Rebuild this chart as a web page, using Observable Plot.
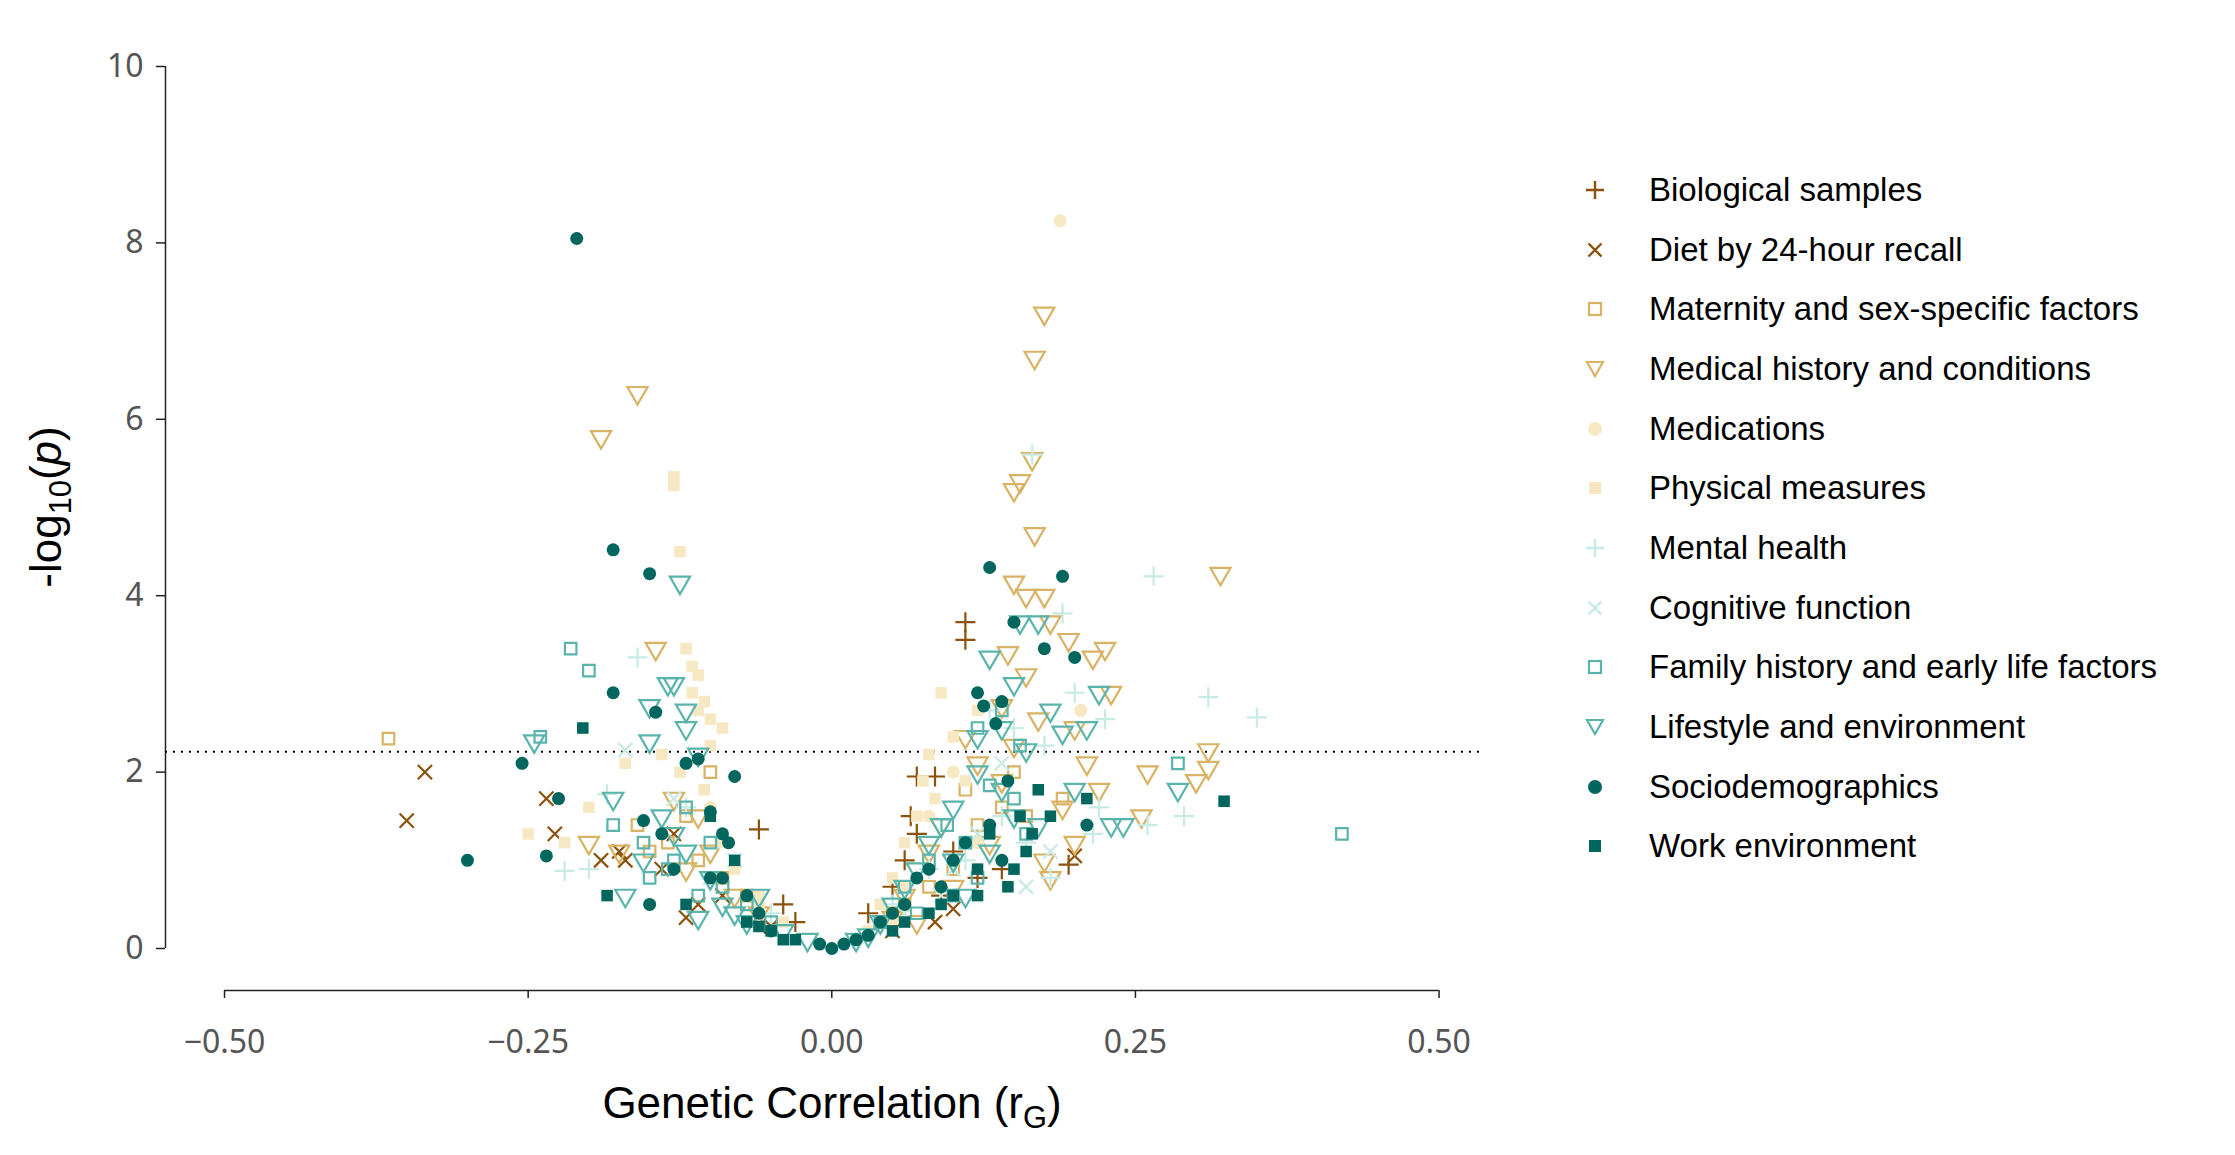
<!DOCTYPE html>
<html><head><meta charset="utf-8">
<script src="https://cdn.jsdelivr.net/npm/d3@7"></script>
<script src="https://cdn.jsdelivr.net/npm/@observablehq/plot@0.6"></script>
<style>
body{margin:0;background:#fff;font-family:Arial,"Liberation Sans",sans-serif;}
#wrap{position:relative;width:2235px;height:1155px;}
#chart{position:absolute;left:0;top:0;}
.ytitle{position:absolute;left:50px;top:507px;transform:translate(-50%,-50%) rotate(-90deg);font-size:44px;color:#000;white-space:nowrap;}
.xtitle{position:absolute;left:832px;top:1107px;transform:translate(-50%,-50%);font-size:44px;color:#000;white-space:nowrap;}
sub{font-size:0.7em;}
#legend{position:absolute;left:1575px;top:160px;}
.li{height:59.7px;display:flex;align-items:center;font-size:33px;color:#000;}
.li svg{width:40px;height:40px;margin-right:34px;}
</style></head>
<body><div id="wrap"><div id="chart"></div>
<div class="ytitle">-log<sub>10</sub>(<i>p</i>)</div>
<div class="xtitle">Genetic Correlation (r<sub>G</sub>)</div>
<div id="legend"></div></div>
<script>
const categories=["Biological samples","Diet by 24-hour recall","Maternity and sex-specific factors","Medical history and conditions","Medications","Physical measures","Mental health","Cognitive function","Family history and early life factors","Lifestyle and environment","Sociodemographics","Work environment"];
const colors=["#8c510a","#8c510a","#d8b365","#d8b365","#f6e8c3","#f6e8c3","#c7eae5","#c7eae5","#5ab4ac","#5ab4ac","#01665e","#01665e"];
const symbols=["plus","times","square","triangle","circle","square","plus","times","square","triangle","circle","square"];
const filled=[false,false,false,false,true,true,false,false,false,false,true,true];
const xTicks=[-0.5,-0.25,0,0.25,0.5];
const yTicks=[0,2,4,6,8,10];
const threshold=2.23;

const biological=[[0.11,3.7],[0.11,3.5],[0.07,1.95],[0.085,1.95],[0.065,1.5],[0.07,1.3],[0.195,0.95],[-0.06,1.35],[0.06,1.0],[0.05,0.7],[0.09,0.6],[-0.03,0.3],[0.12,0.8],[0.03,0.4],[0.1,1.1],[0.14,0.9],[-0.04,0.5]];
const diet=[[-0.335,2.0],[-0.35,1.45],[-0.235,1.7],[-0.228,1.3],[-0.19,1.0],[-0.175,1.1],[-0.12,0.35],[-0.11,0.5],[-0.14,0.9],[-0.17,1.0],[-0.09,0.6],[0.085,0.3],[0.1,0.45],[0.05,0.2],[-0.05,0.25],[0.2,1.05],[-0.13,1.3]];
const maternity=[[-0.365,2.38],[-0.1,2.0],[-0.12,1.5],[-0.135,1.2],[-0.09,0.8],[-0.07,0.6],[0.06,0.5],[0.1,0.9],[0.12,1.4],[0.14,1.6],[0.16,1.5],[-0.16,1.4],[-0.15,1.1],[0.08,0.7],[0.05,0.4],[0.19,1.7],[0.11,1.8],[-0.11,1.0],[0.15,2.0]];
const medical=[[-0.16,6.3],[-0.19,5.8],[0.175,7.2],[0.167,6.7],[0.165,5.55],[0.155,5.3],[0.15,5.2],[0.167,4.7],[0.15,4.15],[0.16,4.0],[0.175,4.0],[0.32,4.25],[-0.145,3.4],[0.18,3.7],[0.195,3.5],[0.225,3.4],[0.215,3.3],[0.145,3.35],[0.16,3.1],[0.14,2.75],[0.23,2.9],[0.15,2.3],[0.31,2.25],[0.3,1.9],[0.31,2.05],[0.26,2.0],[0.255,1.5],[0.18,0.8],[0.175,1.0],[0.22,1.8],[0.19,1.6],[-0.2,1.2],[-0.175,1.1],[-0.13,1.7],[-0.11,1.5],[-0.12,0.9],[-0.08,0.6],[0.1,0.7],[0.13,1.2],[0.07,0.3],[0.12,2.1],[0.2,2.5],[-0.1,1.1],[0.09,1.4],[0.08,1.1],[0.06,0.6],[0.05,0.35],[0.14,1.9],[-0.06,0.4],[0.17,2.6],[0.11,2.4],[0.2,1.2],[0.21,2.1]];
const medications=[[0.188,8.25],[0.205,2.7],[0.1,2.0],[0.12,1.2],[-0.1,1.6],[0.06,0.7],[0.08,1.5],[-0.06,0.5],[0.05,0.3]];
const physical=[[-0.13,5.35],[-0.13,5.25],[-0.125,4.5],[-0.12,3.4],[-0.115,3.2],[-0.11,3.1],[-0.115,2.9],[-0.105,2.8],[-0.11,2.7],[-0.1,2.6],[-0.09,2.5],[-0.1,2.3],[-0.14,2.2],[-0.17,2.1],[-0.2,1.6],[-0.25,1.3],[-0.22,1.2],[-0.125,2.0],[-0.105,1.8],[-0.09,1.2],[-0.08,0.9],[0.09,2.9],[0.1,2.4],[0.08,2.2],[0.075,1.9],[0.085,1.7],[0.07,1.5],[0.06,1.2],[0.05,0.8],[0.04,0.5],[0.11,1.9],[0.12,2.7],[-0.06,0.6],[-0.04,0.3],[0.03,0.2],[0.1,1.0]];
const mental=[[0.165,5.6],[0.265,4.22],[0.31,2.85],[0.35,2.62],[0.225,2.6],[0.2,2.9],[0.19,3.8],[0.13,2.7],[0.15,2.5],[0.175,2.3],[-0.16,3.3],[-0.185,1.75],[-0.22,0.88],[-0.2,0.9],[-0.12,1.6],[0.29,1.5],[0.215,1.3],[0.26,1.4],[0.22,1.6],[0.18,0.8],[0.11,1.0],[0.08,0.9],[0.14,1.5],[-0.05,0.4],[0.05,0.5],[0.16,1.2]];
const cognitive=[[-0.17,2.25],[-0.13,1.7],[0.12,1.3],[0.14,2.1],[0.1,0.9],[-0.08,1.0],[0.09,0.6],[0.16,0.7],[-0.1,0.8],[0.06,0.4],[0.18,1.1]];
const family=[[-0.215,3.4],[-0.2,3.15],[-0.24,2.4],[-0.18,1.4],[-0.155,1.2],[-0.15,0.8],[-0.135,0.9],[-0.13,1.0],[-0.11,0.6],[-0.12,1.6],[-0.09,0.7],[-0.07,0.5],[0.42,1.3],[0.285,2.1],[0.13,1.85],[0.155,2.3],[0.14,2.7],[0.12,2.5],[0.095,1.4],[0.11,1.2],[0.08,1.0],[0.06,0.7],[0.07,0.4],[0.04,0.3],[0.1,0.6],[0.15,1.7],[0.16,1.3],[0.12,0.8],[-0.05,0.3],[-0.1,1.2]];
const lifestyle=[[-0.125,4.15],[-0.245,2.35],[-0.135,3.0],[-0.13,3.0],[-0.12,2.7],[-0.15,2.75],[-0.15,2.35],[-0.12,2.5],[-0.11,2.2],[-0.18,1.7],[-0.155,1.0],[-0.14,1.5],[-0.13,1.3],[-0.12,1.1],[-0.1,0.8],[-0.09,0.5],[-0.08,0.4],[-0.07,0.3],[-0.11,0.35],[-0.17,0.6],[0.155,3.7],[0.17,3.7],[0.13,3.3],[0.15,3.0],[0.14,2.5],[0.12,2.4],[0.16,2.25],[0.18,2.7],[0.22,2.9],[0.21,2.5],[0.19,2.45],[0.2,1.8],[0.23,1.4],[0.24,1.4],[0.285,1.8],[0.12,2.0],[0.1,1.6],[0.09,1.4],[0.08,1.2],[0.07,0.9],[0.06,0.7],[0.05,0.5],[0.04,0.3],[0.1,1.0],[0.11,0.6],[0.13,1.1],[0.15,1.5],[0.17,1.4],[0.14,1.8],[-0.06,0.6],[-0.04,0.2],[0.03,0.15],[0.02,0.1],[-0.02,0.1]];
const socio=[[-0.21,8.05],[-0.18,4.52],[-0.15,4.25],[0.13,4.32],[0.19,4.22],[0.15,3.7],[0.2,3.3],[0.175,3.4],[0.12,2.9],[-0.145,2.68],[-0.155,1.45],[-0.255,2.1],[-0.225,1.7],[-0.235,1.05],[-0.3,1.0],[-0.18,2.9],[-0.12,2.1],[-0.11,2.15],[-0.1,1.55],[-0.09,1.3],[-0.08,1.95],[-0.085,1.2],[-0.1,0.8],[-0.13,0.9],[-0.14,1.3],[-0.15,0.5],[-0.09,0.8],[-0.07,0.6],[-0.06,0.4],[-0.05,0.2],[0.21,1.4],[0.135,2.55],[0.125,2.75],[0.14,2.8],[0.145,1.9],[0.1,1.0],[0.08,0.9],[0.07,0.8],[0.06,0.5],[0.04,0.3],[0.03,0.15],[0.02,0.1],[0.01,0.05],[-0.01,0.05],[0.0,0.0],[0.09,0.7],[0.11,1.2],[0.13,1.4],[0.14,1.0],[0.05,0.4]];
const work=[[-0.205,2.5],[-0.185,0.6],[0.323,1.67],[0.21,1.7],[0.155,1.5],[0.16,1.1],[0.15,0.9],[0.145,0.7],[0.12,0.9],[0.13,1.3],[0.1,0.6],[0.09,0.5],[0.08,0.4],[0.06,0.3],[0.05,0.2],[-0.06,0.25],[-0.05,0.2],[-0.04,0.1],[-0.03,0.1],[-0.07,0.3],[-0.08,1.0],[-0.1,1.5],[-0.12,0.5],[0.12,0.6],[0.165,1.3],[0.17,1.8],[0.18,1.5]];
const series=[biological,diet,maternity,medical,medications,physical,mental,cognitive,family,lifestyle,socio,work];

const xMin=-0.5486, yMin=-0.476;
const marks=[
  Plot.ruleX([xMin],{y1:0,y2:10,stroke:"#222",strokeWidth:1.5}),
  Plot.ruleY(yTicks,{y:d=>d,x1:xMin-0.0075,x2:xMin,stroke:"#222",strokeWidth:1.5}),
  Plot.text(yTicks,{x:()=>xMin,y:d=>d,dx:-22,textAnchor:"end",fontSize:32,fill:"#555",text:d=>String(d)}),
  Plot.ruleY([yMin],{x1:-0.5,x2:0.5,stroke:"#222",strokeWidth:1.5}),
  Plot.ruleX(xTicks,{x:d=>d,y1:yMin,y2:yMin-0.09,stroke:"#222",strokeWidth:1.5}),
  Plot.text(xTicks,{x:d=>d,y:()=>yMin,dy:52,fontSize:32,fill:"#555",text:d=>d3.format(".2f")(d)}),
  Plot.ruleY([threshold],{x1:xMin,x2:0.547,stroke:"#000",strokeWidth:2,strokeDasharray:"2,6"})
];
series.forEach((s,i)=>{
  const opts={x:d=>d[0],y:d=>d[1],symbol:symbols[i],r:symbols[i]==="triangle"?7.5:6.5,rotate:symbols[i]==="triangle"?180:0};
  if(filled[i]) {opts.fill=colors[i];opts.stroke="none";}
  else {opts.stroke=colors[i];opts.fill="none";opts.strokeWidth=2.2;}
  marks.push(Plot.dot(s,opts));
});
const chart=Plot.plot({width:1485,height:1150,marginLeft:165,marginRight:10,marginTop:66,marginBottom:160,
  x:{type:"linear",domain:[xMin,0.53],axis:null},y:{type:"linear",domain:[yMin,10],axis:null},
  marks});
document.getElementById("chart").appendChild(chart);

const leg=document.getElementById("legend");
const paths={plus:'<path d="M20 11V29M11 20H29" stroke-width="2.4"/>',times:'<path d="M13.5 13.5L26.5 26.5M26.5 13.5L13.5 26.5" stroke-width="2.4"/>',
 square:f=>f?'<rect x="14" y="14" width="12" height="12"/>':'<rect x="14" y="14" width="12" height="12" stroke-width="2.2"/>',
 triangle:'<path d="M12 13H28L20 27Z" stroke-width="2.2"/>',circle:'<circle cx="20" cy="20" r="7"/>'};
categories.forEach((c,i)=>{
  let p=paths[symbols[i]]; if(typeof p==="function") p=p(filled[i]);
  const st=filled[i]?`fill="${colors[i]}" stroke="none"`:`fill="none" stroke="${colors[i]}"`;
  const div=document.createElement("div");div.className="li";
  div.innerHTML=`<svg viewBox="0 0 40 40"><g ${st}>${p}</g></svg><span>${c}</span>`;
  leg.appendChild(div);
});
</script></body></html>
